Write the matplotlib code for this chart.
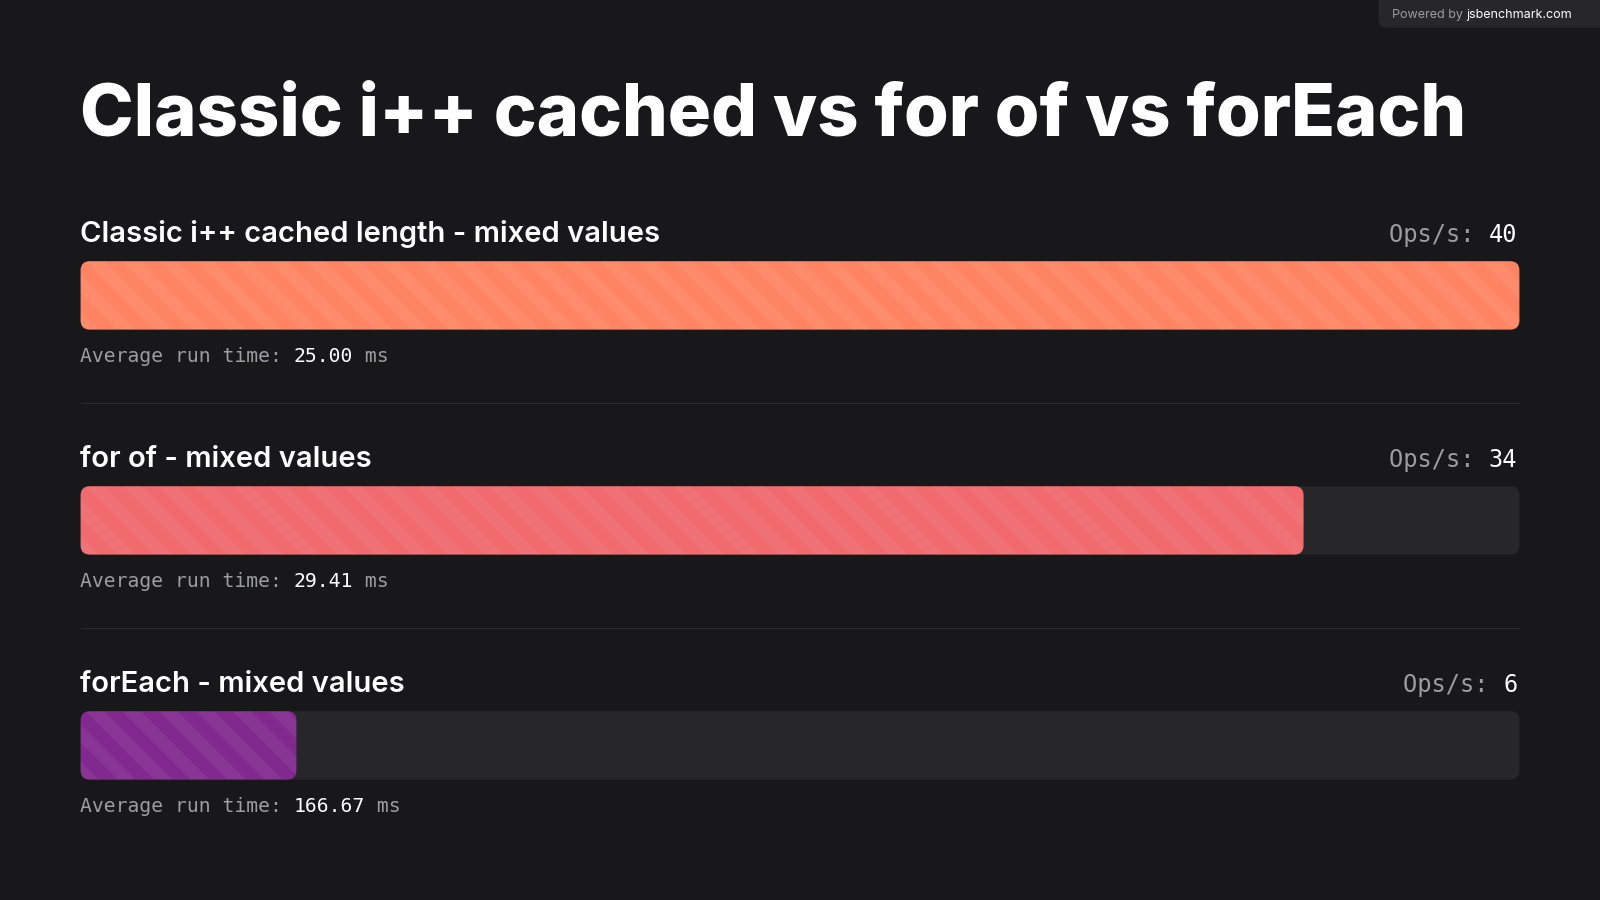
import matplotlib
matplotlib.use('Agg')
import matplotlib.pyplot as plt
from matplotlib.patches import FancyBboxPatch, Polygon

TITLE = 'Classic i++ cached vs for of vs forEach'
NAMES = ['Classic i++ cached length - mixed values', 'for of - mixed values', 'forEach - mixed values']
OPS = [40, 34, 6]
AVG_MS = ['25.00', '29.41', '166.67']
COLORS = ['#ff8464', '#f06a6e', '#82298f']

W, H = 1568, 882
BG = '#18181b'
TRACK = '#27272a'
GREY = '#9c9ca3'

fig = plt.figure(figsize=(16, 9), dpi=100, facecolor=BG)
ax = fig.add_axes([0, 0, 1, 1])
ax.set_xlim(0, W)
ax.set_ylim(H, 0)
ax.axis('off')
ax.set_facecolor(BG)

mono = 'DejaVu Sans Mono'
sans = 'Inter'

fig.canvas.draw()
renderer = fig.canvas.get_renderer()


def text_width(t):
    bb = t.get_window_extent(renderer)
    inv = ax.transData.inverted()
    (x0, _), (x1, _) = inv.transform([(bb.x0, 0), (bb.x1, 0)])
    return abs(x1 - x0)


# badge
badge = FancyBboxPatch((1351, -10), 240, 37, boxstyle='round,pad=0,rounding_size=8',
                       fc=TRACK, ec='none')
ax.add_patch(badge)
t = ax.text(1364, 18, 'Powered by ', color=GREY, fontsize=9, family=sans, va='baseline')
ax.text(1364 + text_width(t), 18, 'jsbenchmark.com', color='white', fontsize=9,
        family=sans, va='baseline')

ax.text(78, 133, TITLE, color='white', fontsize=52, family=sans, weight='heavy',
        va='baseline')

x0, full = 79, 1410
top0, step, bh = 256, 220.5, 67
maxops = max(OPS)
for i, (name, ops, avg, c) in enumerate(zip(NAMES, OPS, AVG_MS, COLORS)):
    top = top0 + i * step
    ax.text(78, top - 19, name, color='white', fontsize=21, family=sans, weight='semibold',
            va='baseline')
    tv = ax.text(1487, top - 19, str(ops), color='white', fontsize=17, family=mono,
                 ha='right', va='baseline')
    ax.text(1487 - text_width(tv), top - 19, 'Ops/s: ', color=GREY, fontsize=17,
            family=mono, ha='right', va='baseline')

    track = FancyBboxPatch((x0, top), full, bh, boxstyle='round,pad=0,rounding_size=9',
                           fc=TRACK, ec='none')
    ax.add_patch(track)
    w = full * ops / maxops
    bar = FancyBboxPatch((x0, top), w, bh, boxstyle='round,pad=0,rounding_size=9',
                         fc=c, ec='none')
    ax.add_patch(bar)
    period = 36
    k = -bh
    while k < w:
        sx = x0 + k
        poly = Polygon([(sx, top), (sx + period / 2, top), (sx + period / 2 + bh, top + bh),
                        (sx + bh, top + bh)], closed=True, fc='white', alpha=0.06, ec='none')
        ax.add_patch(poly)
        poly.set_clip_path(bar)
        k += period

    ta = ax.text(78, top + 99, 'Average run time: ', color=GREY, fontsize=14.2, family=mono,
                 va='baseline')
    tx = 78 + text_width(ta)
    tb = ax.text(tx, top + 99, avg, color='white', fontsize=14.2, family=mono, va='baseline')
    tx2 = tx + text_width(tb)
    ax.text(tx2, top + 99, ' ms', color=GREY, fontsize=14.2, family=mono, va='baseline')

    if i < len(OPS) - 1:
        ax.plot([x0, x0 + full], [top + 139, top + 139], color='#2a2a2e', lw=1)

fig.savefig('out.png', facecolor=BG)
